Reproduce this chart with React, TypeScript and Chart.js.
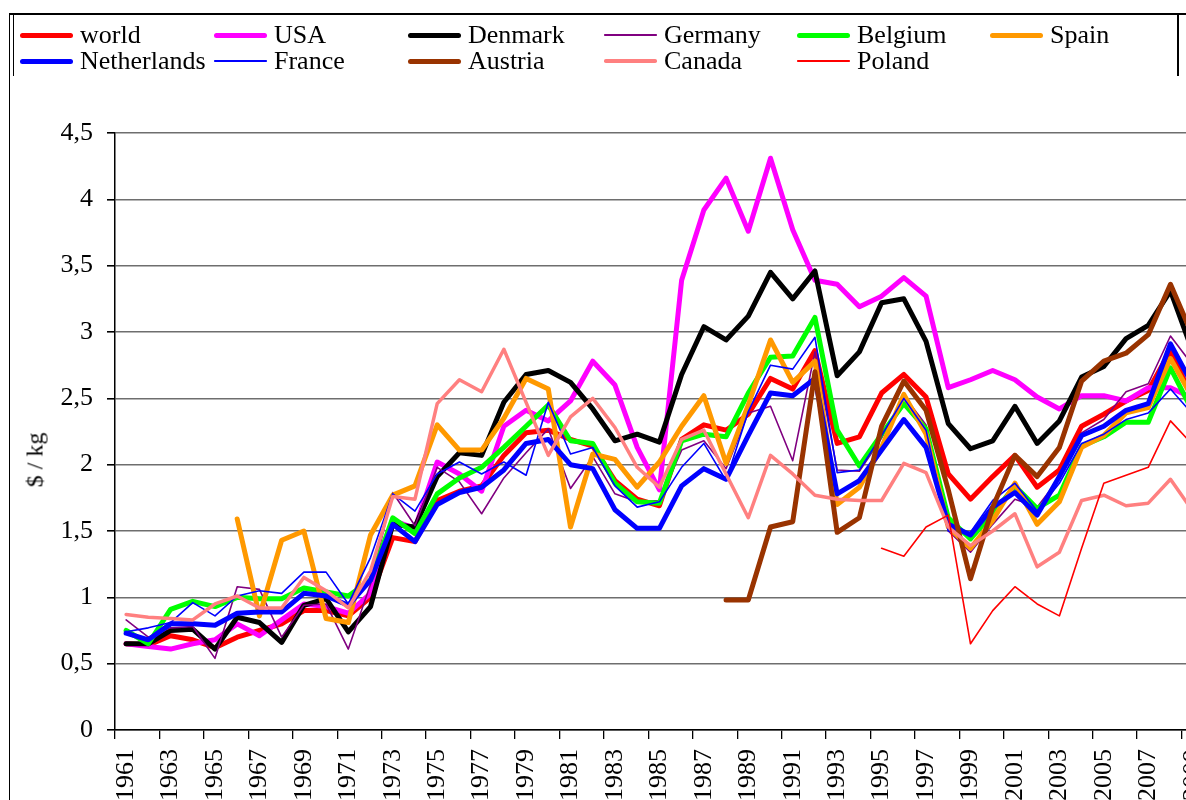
import React, { useEffect, useRef } from 'react';
import { Chart, registerables } from 'chart.js';

Chart.register(...registerables);

const FONT = '"Liberation Serif", "Times New Roman", serif';

const years = [
  '1961', '1962', '1963', '1964', '1965', '1966', '1967', '1968', '1969', '1970',
  '1971', '1972', '1973', '1974', '1975', '1976', '1977', '1978', '1979', '1980',
  '1981', '1982', '1983', '1984', '1985', '1986', '1987', '1988', '1989', '1990',
  '1991', '1992', '1993', '1994', '1995', '1996', '1997', '1998', '1999', '2000',
  '2001', '2002', '2003', '2004', '2005', '2006', '2007', '2008', '2009',
];

const yTicks = [0, 0.5, 1, 1.5, 2, 2.5, 3, 3.5, 4, 4.5];

const world = [
  0.65, 0.64, 0.71, 0.68, 0.62, 0.70, 0.75, 0.80, 0.90, 0.90,
  0.86, 1.00, 1.45, 1.42, 1.73, 1.80, 1.84, 2.07, 2.24, 2.26,
  2.19, 2.14, 1.88, 1.74, 1.69, 2.19, 2.30, 2.26, 2.38, 2.65,
  2.57, 2.86, 2.16, 2.21, 2.54, 2.68, 2.51, 1.93, 1.74, 1.91,
  2.07, 1.83, 1.96, 2.29, 2.38, 2.48, 2.56, 2.86, 2.50,
];
const usa = [
  0.65, 0.63, 0.61, 0.65, 0.68, 0.80, 0.71, 0.83, 0.95, 0.93,
  0.88, 1.03, 1.58, 1.52, 2.02, 1.93, 1.80, 2.29, 2.41, 2.33,
  2.48, 2.78, 2.60, 2.13, 1.81, 3.39, 3.92, 4.16, 3.76, 4.31,
  3.77, 3.39, 3.36, 3.19, 3.27, 3.41, 3.27, 2.58, 2.64, 2.71,
  2.64, 2.51, 2.42, 2.52, 2.52, 2.48, 2.58, 2.58, 2.50,
];
const denmark = [
  0.65, 0.65, 0.75, 0.76, 0.61, 0.85, 0.81, 0.66, 0.94, 0.99,
  0.74, 0.93, 1.55, 1.53, 1.91, 2.09, 2.07, 2.47, 2.68, 2.71,
  2.62, 2.42, 2.18, 2.23, 2.17, 2.68, 3.04, 2.94, 3.12, 3.45,
  3.25, 3.46, 2.67, 2.85, 3.22, 3.25, 2.93, 2.31, 2.12, 2.18,
  2.44, 2.16, 2.33, 2.66, 2.74, 2.95, 3.05, 3.31, 2.85,
];
const germany = [
  0.83, 0.70, 0.77, 0.78, 0.54, 1.08, 1.06, 0.70, 0.94, 0.95,
  0.61, 1.10, 1.79, 1.54, 1.98, 1.87, 1.63, 1.90, 2.09, 2.27,
  1.82, 2.06, 1.78, 1.72, 1.73, 2.11, 2.18, 1.97, 2.39, 2.44,
  2.03, 2.85, 1.96, 1.95, 2.20, 2.52, 2.30, 1.50, 1.34, 1.55,
  1.74, 1.68, 1.90, 2.24, 2.34, 2.55, 2.61, 2.97, 2.75,
];
const belgium = [
  0.75, 0.65, 0.91, 0.97, 0.93, 1.00, 0.99, 0.99, 1.07, 1.04,
  1.01, 1.13, 1.60, 1.48, 1.78, 1.90, 1.98, 2.13, 2.29, 2.45,
  2.18, 2.16, 1.86, 1.72, 1.71, 2.18, 2.23, 2.21, 2.54, 2.81,
  2.82, 3.11, 2.26, 1.99, 2.23, 2.46, 2.27, 1.60, 1.44, 1.63,
  1.84, 1.67, 1.77, 2.14, 2.21, 2.32, 2.32, 2.73, 2.40,
];
const spain = [
  null, null, null, null, null, 1.59, 0.86, 1.43, 1.50, 0.84,
  0.81, 1.47, 1.77, 1.84, 2.30, 2.11, 2.11, 2.35, 2.65, 2.57,
  1.53, 2.08, 2.04, 1.83, 2.02, 2.29, 2.52, 2.01, 2.45, 2.94,
  2.62, 2.78, 1.70, 1.83, 2.13, 2.53, 2.23, 1.53, 1.37, 1.58,
  1.86, 1.55, 1.72, 2.13, 2.22, 2.39, 2.43, 2.80, 2.50,
];
const netherlands = [
  0.73, 0.68, 0.80, 0.80, 0.79, 0.88, 0.89, 0.89, 1.03, 1.01,
  0.94, 1.13, 1.55, 1.42, 1.70, 1.79, 1.83, 1.96, 2.16, 2.19,
  2.00, 1.97, 1.66, 1.52, 1.52, 1.84, 1.97, 1.89, 2.22, 2.54,
  2.52, 2.65, 1.78, 1.88, 2.11, 2.34, 2.13, 1.55, 1.47, 1.68,
  1.79, 1.62, 1.91, 2.22, 2.29, 2.41, 2.46, 2.91, 2.60,
];
const france = [
  0.74, 0.77, 0.81, 0.96, 0.86, 1.01, 1.05, 1.03, 1.19, 1.19,
  0.95, 1.30, 1.78, 1.65, 1.93, 2.02, 1.93, 2.02, 1.92, 2.47,
  2.08, 2.13, 1.84, 1.68, 1.72, 1.98, 2.16, 1.88, 2.40, 2.75,
  2.72, 2.96, 1.94, 1.96, 2.22, 2.50, 2.26, 1.50, 1.49, 1.73,
  1.86, 1.65, 1.86, 2.16, 2.23, 2.34, 2.39, 2.57, 2.38,
];
const austria = [
  null, null, null, null, null, null, null, null, null, null,
  null, null, null, null, null, null, null, null, null, null,
  null, null, null, null, null, null, null, 0.98, 0.98, 1.53,
  1.57, 2.70, 1.49, 1.60, 2.29, 2.63, 2.41, 1.81, 1.14, 1.68,
  2.07, 1.91, 2.13, 2.63, 2.78, 2.84, 2.98, 3.36, 2.97,
];
const canada = [
  0.87, 0.85, 0.84, 0.83, 0.95, 1.01, 0.92, 0.92, 1.15, 1.05,
  0.92, 1.20, 1.76, 1.74, 2.46, 2.64, 2.55, 2.87, 2.47, 2.07,
  2.36, 2.50, 2.28, 1.98, 1.83, 2.19, 2.26, 1.93, 1.60, 2.07,
  1.93, 1.77, 1.74, 1.73, 1.73, 2.01, 1.94, 1.53, 1.39, 1.50,
  1.63, 1.23, 1.34, 1.73, 1.77, 1.69, 1.71, 1.89, 1.65,
];
const poland = [
  null, null, null, null, null, null, null, null, null, null,
  null, null, null, null, null, null, null, null, null, null,
  null, null, null, null, null, null, null, null, null, null,
  null, null, null, null, 1.37, 1.31, 1.53, 1.62, 0.65, 0.90,
  1.08, 0.95, 0.86, 1.37, 1.86, 1.92, 1.98, 2.33, 2.15,
];

const series = [
  { label: 'world', data: world, color: '#FF0000', width: 5 },
  { label: 'USA', data: usa, color: '#FF00FF', width: 5 },
  { label: 'Denmark', data: denmark, color: '#000000', width: 5 },
  { label: 'Germany', data: germany, color: '#800080', width: 1.6 },
  { label: 'Belgium', data: belgium, color: '#00FF00', width: 5 },
  { label: 'Spain', data: spain, color: '#FF9900', width: 5 },
  { label: 'Netherlands', data: netherlands, color: '#0000FF', width: 5 },
  { label: 'France', data: france, color: '#0000FF', width: 1.6 },
  { label: 'Austria', data: austria, color: '#993300', width: 5 },
  { label: 'Canada', data: canada, color: '#FF8080', width: 3.5 },
  { label: 'Poland', data: poland, color: '#FF0000', width: 1.6 },
];

const legendCols = [20, 214, 408, 604, 797, 990];
const legendRows = [35, 61];

const CANVAS_W = 1234;
const CANVAS_H = 810;

export default function App() {
  const ref = useRef<HTMLCanvasElement | null>(null);

  useEffect(() => {
    if (!ref.current) return;
    const n = series.length;
    const chart = new Chart(ref.current, {
      type: 'line',
      data: {
        labels: years,
        datasets: series.map((s, i) => ({
          label: s.label,
          data: s.data,
          borderColor: s.color,
          backgroundColor: s.color,
          borderWidth: s.width,
          pointRadius: 0,
          pointHoverRadius: 0,
          tension: 0,
          spanGaps: false,
          fill: false,
          borderJoinStyle: 'round' as const,
          borderCapStyle: 'round' as const,
          order: n - 1 - i,
        })),
      },
      options: {
        responsive: false,
        animation: false,
        devicePixelRatio: 1,
        layout: { padding: { left: 0, top: 133, right: 10, bottom: 0 } },
        plugins: {
          legend: { display: false },
          tooltip: { enabled: false },
          title: { display: false },
        },
        scales: {
          x: {
            type: 'category',
            offset: true,
            afterFit: (scale: any) => { scale.height = 80; },
            grid: {
              display: true,
              drawOnChartArea: false,
              drawTicks: true,
              tickLength: 9,
              offset: true,
              color: (ctx: any) => (ctx.index % 2 === 0 ? '#000' : 'rgba(0,0,0,0)'),
              tickColor: (ctx: any) => (ctx.index % 2 === 0 ? '#000' : 'rgba(0,0,0,0)'),
              lineWidth: 1.3,
            },
            border: { display: true, color: '#000', width: 1.5 },
            ticks: {
              autoSkip: false,
              maxRotation: 90,
              minRotation: 90,
              padding: 10,
              color: '#000',
              font: { family: FONT, size: 26 },
              callback: (_v: any, i: number) => (i % 2 === 0 ? years[i] : ''),
            },
          },
          y: {
            min: 0,
            max: 4.5,
            afterFit: (scale: any) => { scale.width = 115; },
            afterBuildTicks: (scale: any) => {
              scale.ticks = yTicks.map((v) => ({ value: v }));
            },
            grid: {
              display: true,
              drawOnChartArea: true,
              drawTicks: true,
              tickLength: 8,
              color: '#6e6e6e',
              tickColor: '#000',
              lineWidth: 1.6,
            },
            border: { display: true, color: '#000', width: 1.5 },
            ticks: {
              padding: 14,
              color: '#000',
              font: { family: FONT, size: 26 },
              callback: (v: any) => String(v).replace('.', ','),
            },
          },
        },
      },
    });
    return () => chart.destroy();
  }, []);

  return (
    <div
      style={{
        position: 'fixed',
        left: 0,
        top: 0,
        width: 1186,
        height: 800,
        overflow: 'hidden',
        background: '#fff',
        fontFamily: FONT,
      }}
    >
      <canvas
        ref={ref}
        width={CANVAS_W}
        height={CANVAS_H}
        style={{ position: 'absolute', left: 0, top: 0, width: CANVAS_W, height: CANVAS_H }}
      />
      {/* chart outer border */}
      <div style={{ position: 'absolute', left: 9, top: 13, width: 1, height: 800, background: '#000' }} />
      <div style={{ position: 'absolute', left: 9, top: 13, width: 1200, height: 1.5, background: '#000' }} />
      {/* legend box sides */}
      <div style={{ position: 'absolute', left: 13, top: 13, width: 1, height: 63, background: '#000' }} />
      <div style={{ position: 'absolute', left: 1177, top: 13, width: 1.5, height: 63, background: '#000' }} />
      {series.map((s, i) => {
        const col = i % 6;
        const row = Math.floor(i / 6);
        const x = legendCols[col];
        const y = legendRows[row];
        return (
          <div key={s.label}>
            <div
              style={{
                position: 'absolute',
                left: x,
                top: y - s.width / 2,
                width: 53,
                height: s.width,
                borderRadius: s.width / 2,
                background: s.color,
              }}
            />
            <div
              style={{
                position: 'absolute',
                left: x + 60,
                top: y - 16,
                height: 32,
                lineHeight: '32px',
                fontSize: 26,
                color: '#000',
                whiteSpace: 'nowrap',
              }}
            >
              {s.label}
            </div>
          </div>
        );
      })}
      <div
        style={{
          position: 'absolute',
          left: 35,
          top: 460,
          transform: 'translate(-50%, -50%) rotate(-90deg)',
          fontSize: 24,
          whiteSpace: 'nowrap',
          color: '#000',
        }}
      >
        $ / kg
      </div>
    </div>
  );
}
